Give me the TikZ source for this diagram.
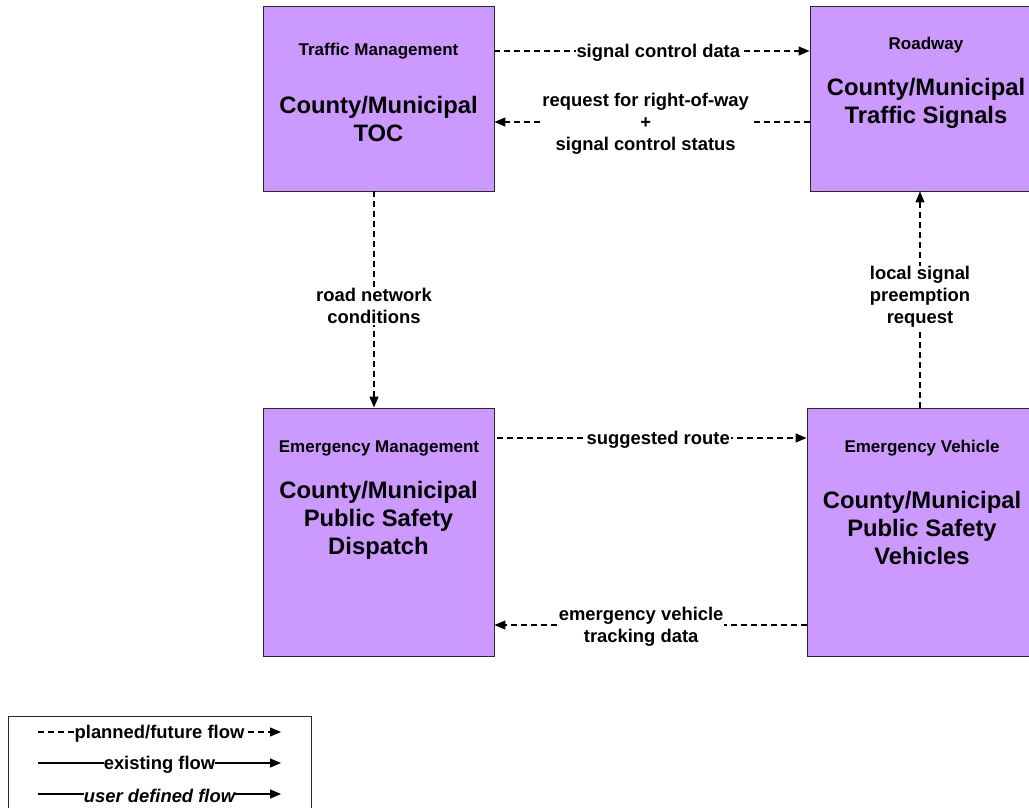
\documentclass[tikz,border=0pt]{standalone}
\usepackage{fontspec}
\setmainfont{Liberation Sans}
\usetikzlibrary{arrows.meta}
\definecolor{boxfill}{RGB}{204,153,255}
\definecolor{boxline}{RGB}{40,40,40}
\tikzset{
  ent/.style={draw=boxline, line width=0.9pt, fill=boxfill, inner sep=0pt},
  big/.style={font=\fontsize{23.8}{28}\selectfont\bfseries, align=center, inner sep=0pt},
  small/.style={font=\fontsize{17}{20}\selectfont\bfseries, align=center, inner sep=0pt},
  lbl/.style={font=\fontsize{18.4}{22}\selectfont\bfseries, align=center, fill=white, inner sep=1pt, yshift=-2pt},
  flow/.style={line width=1.2pt, dash pattern=on 6pt off 4pt, -{Triangle[length=11pt,width=9pt]}},
  solidflow/.style={line width=1.2pt, -{Triangle[length=11pt,width=9pt]}},
}
\begin{document}
\begin{tikzpicture}[x=1pt,y=-1pt]
\useasboundingbox (0,0) rectangle (1029,808);
\clip (0,0) rectangle (1029,808);
% boxes
\node[ent, minimum width=231pt, minimum height=185pt] (toc) at (378.5,98.5) {};
\node[ent, minimum width=232pt, minimum height=185pt] (sig) at (926,98.5) {};
\node[ent, minimum width=231pt, minimum height=248pt] (disp) at (378.5,532) {};
\node[ent, minimum width=230pt, minimum height=248pt] (veh) at (922,532) {};
% texts
\node[small] (tocT) at (378.5,51) {Traffic Management};
\node[big] (tocN) at (378.5,119) {County/Municipal\\TOC};
\node[small] (sigT) at (926,45) {Roadway};
\node[big] (sigN) at (926,103) {County/Municipal\\Traffic Signals};
\node[small] (dispT) at (379,448.5) {Emergency Management};
\node[big] (dispN) at (378.5,520) {County/Municipal\\Public Safety\\Dispatch};
\node[small] (vehT) at (922,448) {Emergency Vehicle};
\node[big] (vehN) at (922,528) {County/Municipal\\Public Safety\\Vehicles};
% flows
\draw[flow] ([yshift=47.5pt]toc.east) -- node[lbl, pos=0.52] {signal control data} ([yshift=47.5pt]sig.west);
\draw[flow] ([yshift=-23.5pt]sig.west) -- node[lbl, pos=0.52] {request for right-of-way\\+\\signal control status} ([yshift=-23.5pt]toc.east);
\draw[flow] ([xshift=-4.5pt]toc.south) -- node[lbl, pos=0.52] {road network\\conditions} ([xshift=-4.5pt]disp.north);
\draw[flow] ([xshift=-2pt]veh.north) -- node[lbl, pos=0.52] {local signal\\preemption\\request} ([xshift=-2pt]veh.north |- sig.south);
\draw[flow] ([xshift=3pt,yshift=94pt]disp.east) -- node[lbl, pos=0.52] {suggested route} ([yshift=94pt]veh.west);
\draw[flow] ([yshift=-93pt]veh.west) -- node[lbl, pos=0.53] {emergency vehicle\\tracking data} ([yshift=-93pt]disp.east);
% legend
\node[draw=boxline, line width=0.9pt, fill=white, minimum width=303pt, minimum height=110pt, inner sep=0pt] (leg) at (159.5,771) {};
\coordinate (l1a) at (38,732); \coordinate (l1b) at (281,732);
\coordinate (l2a) at (38,763); \coordinate (l2b) at (281,763);
\coordinate (l3a) at (38,794); \coordinate (l3b) at (281,794);
\draw[flow] (l1a) -- node[lbl, pos=0.5, inner sep=0pt] {planned/future flow} (l1b);
\draw[solidflow] (l2a) -- node[lbl, pos=0.5, inner sep=0pt] {existing flow} (l2b);
\draw[solidflow] (l3a) -- node[lbl, pos=0.5, inner sep=0pt, font=\fontsize{18.4}{22}\selectfont\bfseries\itshape] {user defined flow} (l3b);
\end{tikzpicture}
\end{document}
